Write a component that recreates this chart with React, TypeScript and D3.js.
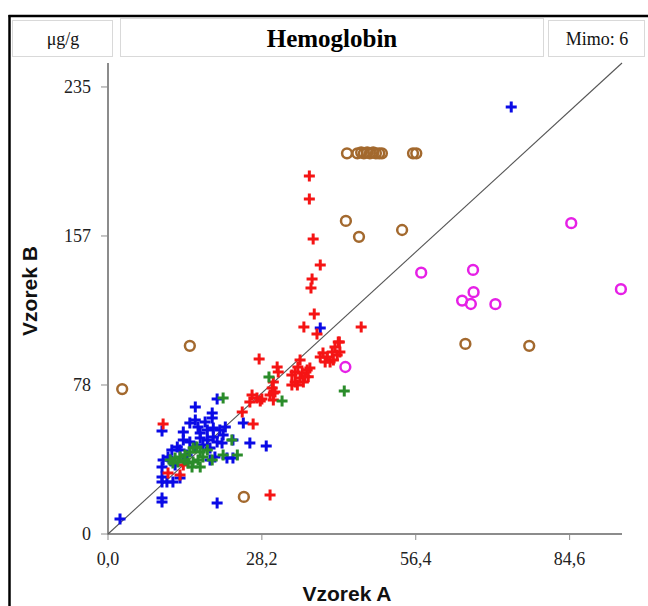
import React from "react";
import * as d3 from "d3";

const xTickValues = [0, 28.2, 56.4, 84.6];
const xTickLabels = ["0,0", "28,2", "56,4", "84,6"];
const yTickValues = [0, 235 / 3, (235 * 2) / 3, 235];
const yTickLabels = ["0", "78", "157", "235"];
const xMax = 94.2;
const yMax = 247.6;

// [Vzorek A, Vzorek B]
const blueSeries: [number, number][] = [
  [2.2, 7.9], [73.9, 224.5], [38.9, 108.3], [9.9, 16.8], [9.9, 18.9], [20.0, 16.3],
  [9.9, 54.2], [16.0, 66.8], [20.0, 71.0], [24.8, 58.4], [26.0, 47.8], [29.0, 46.3],
  [19.1, 63.6], [19.1, 61.0], [15.0, 58.4], [16.5, 56.3], [16.9, 53.1], [18.2, 54.7],
  [19.3, 55.7], [20.5, 54.7], [21.1, 52.1], [19.3, 51.0], [18.2, 49.4], [20.0, 48.4],
  [20.9, 47.8], [16.9, 50.5], [15.0, 48.4], [13.8, 49.4], [12.7, 45.7], [11.7, 44.2],
  [11.0, 40.5], [10.1, 38.9], [9.9, 35.2], [9.9, 30.0], [9.9, 27.3], [10.8, 27.3],
  [11.9, 27.3], [13.2, 29.4], [11.4, 38.9], [12.3, 36.3], [13.8, 38.9], [18.7, 38.9],
  [19.6, 40.5], [21.8, 40.0], [22.9, 40.0], [22.9, 49.4], [13.2, 44.2], [14.5, 41.5],
  [16.0, 45.7], [17.4, 46.8], [18.7, 45.2], [13.8, 53.6], [16.0, 59.9], [17.8, 58.9],
  [21.5, 56.3],
];

const redSeries: [number, number][] = [
  [36.9, 188.2], [36.9, 176.1], [37.6, 155.1], [38.9, 141.4], [37.4, 134.1], [37.2, 129.3],
  [37.8, 115.7], [35.9, 108.8], [38.3, 105.2], [46.4, 108.8], [42.4, 100.9], [27.7, 92.0],
  [31.0, 87.8], [31.2, 85.2], [30.3, 79.9], [30.1, 76.8], [30.6, 74.7], [29.7, 73.1],
  [26.4, 73.1], [27.3, 71.5], [28.2, 71.0], [26.0, 69.4], [30.3, 70.5], [24.6, 64.1],
  [35.2, 91.5], [34.8, 87.8], [34.3, 85.2], [33.7, 83.6], [35.6, 84.7], [36.5, 86.2],
  [37.0, 87.3], [36.1, 82.6], [35.2, 82.0], [34.3, 79.9], [34.7, 78.3], [33.7, 78.3],
  [35.8, 79.9], [36.7, 82.6], [39.4, 95.2], [40.2, 93.1], [41.1, 95.7], [41.6, 98.3],
  [42.2, 100.9], [42.5, 95.7], [42.0, 94.1], [40.7, 90.4], [38.9, 93.1], [39.8, 90.4],
  [41.3, 91.5], [10.1, 57.8], [26.6, 57.8], [29.7, 20.5], [27.9, 69.9], [30.3, 74.1],
  [11.0, 32.1], [13.2, 31.0], [13.8, 36.3],
];

const greenSeries: [number, number][] = [
  [21.1, 71.5], [29.5, 82.5], [31.9, 69.9], [22.7, 49.4], [23.7, 41.5], [21.1, 41.5],
  [19.1, 38.9], [11.4, 38.9], [12.3, 40.0], [13.2, 40.5], [14.1, 41.5], [15.0, 43.1],
  [15.6, 45.2], [16.3, 45.7], [16.9, 43.1], [17.4, 40.5], [16.5, 38.9], [15.6, 37.9],
  [14.7, 37.3], [18.2, 44.2], [14.1, 38.9], [16.9, 35.2], [15.4, 35.2], [11.9, 37.3],
  [12.8, 37.9], [43.3, 75.2],
];

const brownSeries: [number, number][] = [
  [2.6, 76.2], [15.0, 98.9], [24.9, 19.5], [43.8, 200.1], [43.6, 164.6], [46.0, 156.2],
  [53.9, 159.8], [65.5, 99.9], [77.2, 98.9], [45.7, 200.1], [46.4, 200.6], [46.9, 200.1],
  [47.5, 200.6], [48.0, 200.1], [48.6, 200.6], [49.1, 200.1], [49.7, 200.1], [50.2, 200.1],
  [55.9, 200.1], [56.5, 200.1],
];

const magentaSeries: [number, number][] = [
  [43.5, 87.8], [57.4, 137.4], [66.9, 138.8], [67.0, 127.1], [64.9, 122.7], [66.5, 120.9],
  [71.0, 120.8], [84.9, 163.4], [94.0, 128.7],
];

const unitLabel = "μg/g";
const titleLabel = "Hemoglobin";
const outsideLabel = "Mimo: 6";
const xTitle = "Vzorek A";
const yTitle = "Vzorek B";

export default function App() {
  const x = d3.scaleLinear().domain([0, xMax]).range([108, 622]);
  const y = d3.scaleLinear().domain([0, yMax]).range([534, 63]);
  const line = d3.line<[number, number]>().x((d) => x(d[0])).y((d) => y(d[1]));
  const plus = "M-5.5,0H5.5M0,-5.5V5.5";
  const serif = "'Liberation Serif', 'Times New Roman', serif";
  const sans = "'Liberation Sans', Arial, sans-serif";
  const axisColor = "#8c8c8c";

  const crosses = (data: [number, number][], color: string, key: string) =>
    data.map((d, i) => (
      <path key={key + i} d={plus} transform={`translate(${x(d[0])},${y(d[1])})`}
        stroke={color} strokeWidth={3} fill="none" />
    ));
  const rings = (data: [number, number][], color: string, key: string) =>
    data.map((d, i) => (
      <circle key={key + i} cx={x(d[0])} cy={y(d[1])} r={4.9}
        stroke={color} strokeWidth={2.5} fill="none" />
    ));

  return (
    <svg width={648} height={606} style={{ position: "absolute", left: 0, top: 0, background: "#fff" }}>
      <rect x={0} y={0} width={648} height={606} fill="#fff" />
      {/* outer frame */}
      <line x1={9.5} y1={15} x2={9.5} y2={606} stroke="#000" strokeWidth={2.5} />
      <line x1={8.5} y1={16} x2={648} y2={16} stroke="#000" strokeWidth={2.5} />
      {/* header boxes */}
      <rect x={12.5} y={20.5} width={100} height={36} fill="#fff" stroke="#d9d9d9" />
      <rect x={120.5} y={18.5} width={423} height={38} fill="#fff" stroke="#d9d9d9" />
      <rect x={548.5} y={20.5} width={96} height={36} fill="#fff" stroke="#d9d9d9" />
      <text x={63} y={45} textAnchor="middle" fontFamily={serif} fontSize={18} fill="#111">{unitLabel}</text>
      <text x={332} y={47} textAnchor="middle" fontFamily={serif} fontSize={25} fontWeight="bold" fill="#000">{titleLabel}</text>
      <text x={597} y={45} textAnchor="middle" fontFamily={serif} fontSize={18} fill="#111">{outsideLabel}</text>

      {/* axes */}
      <line x1={x(0)} y1={y(0)} x2={x(0)} y2={y(yMax)} stroke={axisColor} strokeWidth={2} />
      <line x1={x(0) - 1} y1={y(0)} x2={x(xMax)} y2={y(0)} stroke={axisColor} strokeWidth={2} />
      {yTickValues.map((v, i) => (
        <g key={"yt" + i}>
          <line x1={x(0) - 7} x2={x(0)} y1={y(v)} y2={y(v)} stroke={axisColor} strokeWidth={1} />
          <text x={91} y={y(v) + 6} textAnchor="end" fontFamily={serif} fontSize={18} fill="#222">{yTickLabels[i]}</text>
        </g>
      ))}
      {xTickValues.map((v, i) => (
        <g key={"xt" + i}>
          <line x1={x(v)} x2={x(v)} y1={y(0)} y2={y(0) + 6} stroke={axisColor} strokeWidth={1} />
          <text x={x(v)} y={565} textAnchor="middle" fontFamily={serif} fontSize={18} fill="#222">{xTickLabels[i]}</text>
        </g>
      ))}
      <text x={347} y={601} textAnchor="middle" fontFamily={sans} fontSize={21} fontWeight="bold" fill="#111">{xTitle}</text>
      <text transform="translate(37,291) rotate(-90)" textAnchor="middle" fontFamily={sans} fontSize={21} fontWeight="bold" fill="#111">{yTitle}</text>

      {/* identity line */}
      <path d={line([[0, 0], [xMax, yMax]]) || ""} stroke="#555" strokeWidth={1.1} fill="none" />

      {crosses(blueSeries, "#0a0ae6", "b")}
      {crosses(redSeries, "#f51414", "r")}
      {crosses(greenSeries, "#2a8c2a", "g")}
      {rings(brownSeries, "#a3692e", "br")}
      {rings(magentaSeries, "#e620e6", "m")}
    </svg>
  );
}
